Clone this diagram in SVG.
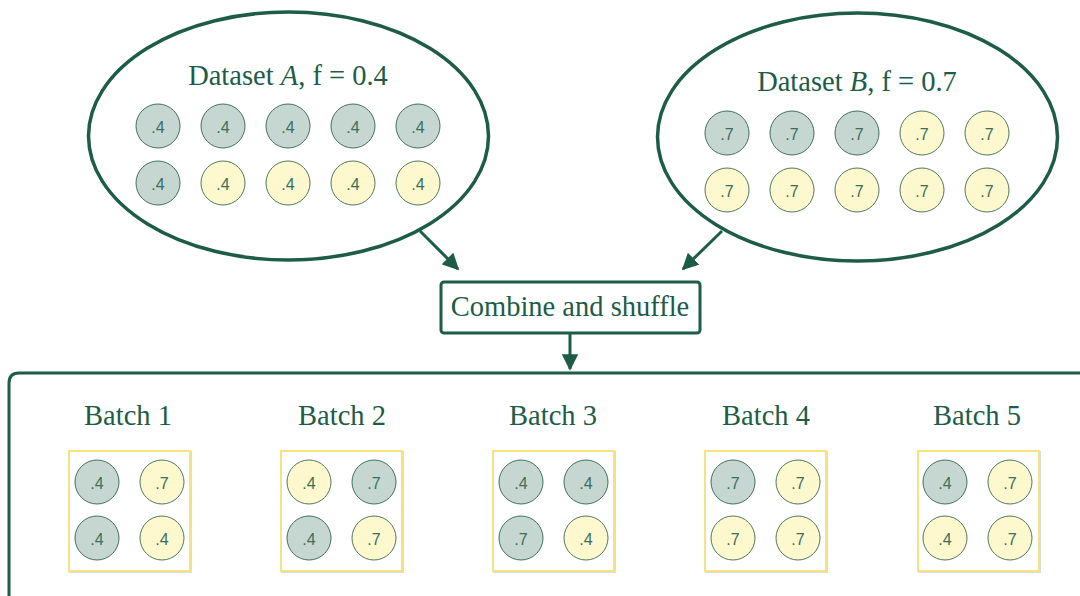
<svg xmlns="http://www.w3.org/2000/svg" width="1080" height="596" viewBox="0 0 1080 596">
<style>
.ttl{font-family:"Liberation Serif","Times New Roman",serif;font-size:28.5px;fill:#1d5c47;text-anchor:middle}
.g{fill:#c6d7d1;stroke:#3f6f5f;stroke-width:1}
.y{fill:#fdf8cd;stroke:#4d7a5c;stroke-width:1}
.v{font-family:"Liberation Sans",Arial,sans-serif;font-size:16px;fill:#3a6e5c;text-anchor:middle;dominant-baseline:central}
.ell{fill:#fff;stroke:#1d5c47;stroke-width:3.5}
.bx{fill:#fff;stroke:#f4e283;stroke-width:2}
.sh{fill:none;stroke:#dcdcd4;stroke-width:2}
.con{stroke:#1d5c47;stroke-width:3;fill:none}
</style>
<defs>
<marker id="ah" viewBox="0 0 10 10" refX="9" refY="5" markerWidth="5.5" markerHeight="5.5" markerUnits="strokeWidth" orient="auto">
<path d="M0,0 L10,5 L0,10 Z" fill="#1d5c47"/>
</marker>
</defs>
<g id="container">
<path d="M9,596 L9,383 Q9,373 19,373 L1080,373" fill="none" stroke="#1d5c47" stroke-width="3"/>
</g>
<g id="datasetA">
<ellipse class="ell" cx="288.5" cy="136" rx="200" ry="124"/>
<text class="ttl" x="288" y="85">Dataset <tspan font-style="italic">A</tspan>, f = 0.4</text>
<circle class="g" cx="158" cy="126" r="22"/><text class="v" x="158" y="127">.4</text>
<circle class="g" cx="223" cy="126" r="22"/><text class="v" x="223" y="127">.4</text>
<circle class="g" cx="288" cy="126" r="22"/><text class="v" x="288" y="127">.4</text>
<circle class="g" cx="353" cy="126" r="22"/><text class="v" x="353" y="127">.4</text>
<circle class="g" cx="418" cy="126" r="22"/><text class="v" x="418" y="127">.4</text>
<circle class="g" cx="158" cy="183" r="22"/><text class="v" x="158" y="184">.4</text>
<circle class="y" cx="223" cy="183" r="22"/><text class="v" x="223" y="184">.4</text>
<circle class="y" cx="288" cy="183" r="22"/><text class="v" x="288" y="184">.4</text>
<circle class="y" cx="353" cy="183" r="22"/><text class="v" x="353" y="184">.4</text>
<circle class="y" cx="418" cy="183" r="22"/><text class="v" x="418" y="184">.4</text>
</g>
<g id="datasetB">
<ellipse class="ell" cx="857.5" cy="137" rx="200" ry="124"/>
<text class="ttl" x="857" y="91">Dataset <tspan font-style="italic">B</tspan>, f = 0.7</text>
<circle class="g" cx="727" cy="133" r="22"/><text class="v" x="727" y="134">.7</text>
<circle class="g" cx="792" cy="133" r="22"/><text class="v" x="792" y="134">.7</text>
<circle class="g" cx="857" cy="133" r="22"/><text class="v" x="857" y="134">.7</text>
<circle class="y" cx="922" cy="133" r="22"/><text class="v" x="922" y="134">.7</text>
<circle class="y" cx="987" cy="133" r="22"/><text class="v" x="987" y="134">.7</text>
<circle class="y" cx="727" cy="190" r="22"/><text class="v" x="727" y="191">.7</text>
<circle class="y" cx="792" cy="190" r="22"/><text class="v" x="792" y="191">.7</text>
<circle class="y" cx="857" cy="190" r="22"/><text class="v" x="857" y="191">.7</text>
<circle class="y" cx="922" cy="190" r="22"/><text class="v" x="922" y="191">.7</text>
<circle class="y" cx="987" cy="190" r="22"/><text class="v" x="987" y="191">.7</text>
</g>
<g id="combine">
<rect x="441" y="282" width="259" height="51" rx="3" fill="#fff" stroke="#1d5c47" stroke-width="3"/>
<text class="ttl" x="570" y="316">Combine and shuffle</text>
</g>
<g id="connectors">
<line class="con" x1="420" y1="231" x2="458" y2="269" marker-end="url(#ah)"/>
<line class="con" x1="722" y1="231" x2="683" y2="269" marker-end="url(#ah)"/>
<line class="con" x1="570" y1="333" x2="570" y2="369" marker-end="url(#ah)"/>
</g>
<g id="batch1">
<text class="ttl" x="128" y="425">Batch 1</text>
<rect class="sh" x="70" y="452" width="121" height="120"/>
<rect class="bx" x="69" y="451" width="121" height="120"/>
<circle class="g" cx="97" cy="482" r="22"/><text class="v" x="97" y="483">.4</text>
<circle class="y" cx="162" cy="482" r="22"/><text class="v" x="162" y="483">.7</text>
<circle class="g" cx="97" cy="538" r="22"/><text class="v" x="97" y="539">.4</text>
<circle class="y" cx="162" cy="538" r="22"/><text class="v" x="162" y="539">.4</text>
</g>
<g id="batch2">
<text class="ttl" x="342" y="425">Batch 2</text>
<rect class="sh" x="282" y="452" width="121" height="120"/>
<rect class="bx" x="281" y="451" width="121" height="120"/>
<circle class="y" cx="309" cy="482" r="22"/><text class="v" x="309" y="483">.4</text>
<circle class="g" cx="374" cy="482" r="22"/><text class="v" x="374" y="483">.7</text>
<circle class="g" cx="309" cy="538" r="22"/><text class="v" x="309" y="539">.4</text>
<circle class="y" cx="374" cy="538" r="22"/><text class="v" x="374" y="539">.7</text>
</g>
<g id="batch3">
<text class="ttl" x="553" y="425">Batch 3</text>
<rect class="sh" x="494" y="452" width="121" height="120"/>
<rect class="bx" x="493" y="451" width="121" height="120"/>
<circle class="g" cx="521" cy="482" r="22"/><text class="v" x="521" y="483">.4</text>
<circle class="g" cx="586" cy="482" r="22"/><text class="v" x="586" y="483">.4</text>
<circle class="g" cx="521" cy="538" r="22"/><text class="v" x="521" y="539">.7</text>
<circle class="y" cx="586" cy="538" r="22"/><text class="v" x="586" y="539">.4</text>
</g>
<g id="batch4">
<text class="ttl" x="766" y="425">Batch 4</text>
<rect class="sh" x="706" y="452" width="121" height="120"/>
<rect class="bx" x="705" y="451" width="121" height="120"/>
<circle class="g" cx="733" cy="482" r="22"/><text class="v" x="733" y="483">.7</text>
<circle class="y" cx="798" cy="482" r="22"/><text class="v" x="798" y="483">.7</text>
<circle class="y" cx="733" cy="538" r="22"/><text class="v" x="733" y="539">.7</text>
<circle class="y" cx="798" cy="538" r="22"/><text class="v" x="798" y="539">.7</text>
</g>
<g id="batch5">
<text class="ttl" x="977" y="425">Batch 5</text>
<rect class="sh" x="919" y="452" width="121" height="120"/>
<rect class="bx" x="918" y="451" width="121" height="120"/>
<circle class="g" cx="945" cy="482" r="22"/><text class="v" x="945" y="483">.4</text>
<circle class="y" cx="1010" cy="482" r="22"/><text class="v" x="1010" y="483">.7</text>
<circle class="y" cx="945" cy="538" r="22"/><text class="v" x="945" y="539">.4</text>
<circle class="y" cx="1010" cy="538" r="22"/><text class="v" x="1010" y="539">.7</text>
</g>
</svg>
